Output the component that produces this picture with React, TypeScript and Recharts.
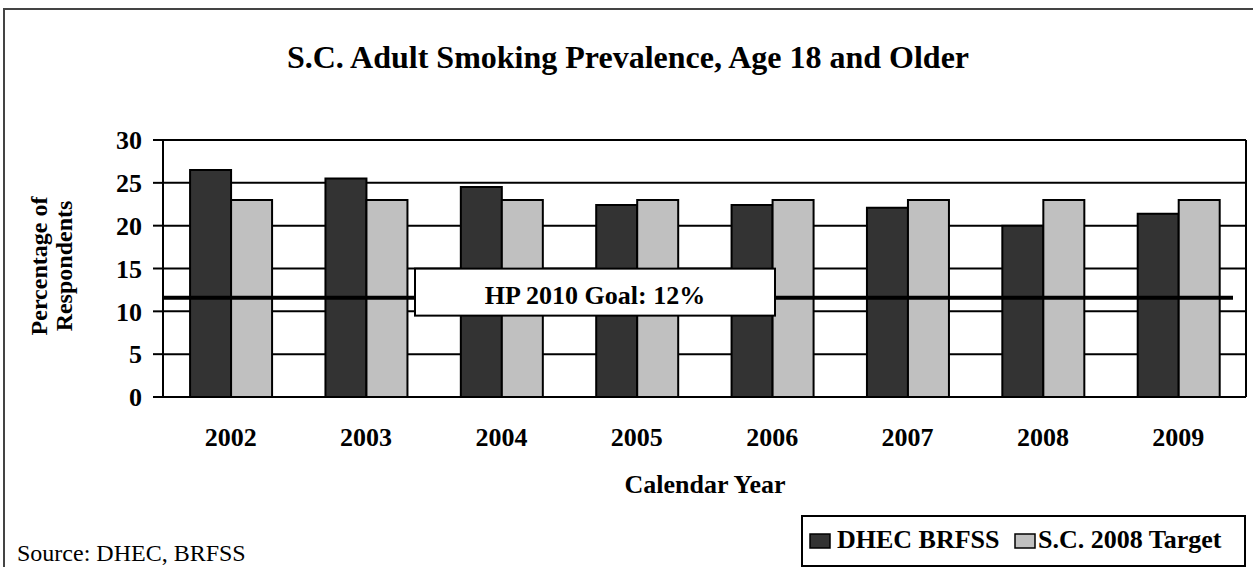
import React from 'react';
import { BarChart, Bar, XAxis, YAxis, CartesianGrid, ReferenceLine } from 'recharts';

const years = ['2002', '2003', '2004', '2005', '2006', '2007', '2008', '2009'];
const dhecBrfss = [26.5, 25.5, 24.5, 22.4, 22.4, 22.1, 20.0, 21.4];
const scTarget = [23, 23, 23, 23, 23, 23, 23, 23];
const hpGoal = 11.6;
const hpGoalLabel = 'HP 2010 Goal: 12%';
const yTicks = [0, 5, 10, 15, 20, 25, 30];
const boundaryTicks = [0, 1, 2, 3, 4, 5, 6, 7, 8];
const seriesNames = ['DHEC BRFSS', 'S.C. 2008 Target'];
const title = 'S.C. Adult Smoking Prevalence, Age 18 and Older';
const xTitle = 'Calendar Year';
const yTitleLines = ['Percentage of', 'Respondents'];
const sourceText = 'Source: DHEC, BRFSS';

const data = years.map((y, i) => ({ year: y, dhec: dhecBrfss[i], target: scTarget[i] }));

const FONT = '"Liberation Serif", "Times New Roman", serif';
const DARK = '#333333';
const LIGHT = '#C0C0C0';

const XTick = (props: any) => {
  const { x, y, payload } = props;
  return (
    <text x={x} y={y + 18} textAnchor="middle" fontFamily={FONT} fontWeight="bold" fontSize={26} fill="#000">
      {payload.value}
    </text>
  );
};

const HPShape = (props: any) => {
  const { x1, y1, x2 } = props;
  return (
    <g>
      <line x1={x1} y1={y1} x2={x2 - 13} y2={y1} stroke="#000" strokeWidth={4} />
      <rect x={x1 + 252} y={y1 - 29} width={360} height={47} fill="#fff" stroke="#000" strokeWidth={2} />
      <text x={x1 + 432} y={y1 + 6} textAnchor="middle" fontFamily={FONT} fontWeight="bold" fontSize={26} fill="#000">
        {hpGoalLabel}
      </text>
    </g>
  );
};

export default function App() {
  return (
    <div style={{ position: 'absolute', left: 0, top: 0, width: 1253, height: 567, background: '#fff', overflow: 'hidden', fontFamily: FONT }}>
      <BarChart
        width={1253}
        height={567}
        data={data}
        margin={{ top: 140, right: 0, bottom: 70, left: 0 }}
        barCategoryGap="20%"
        barGap={0}
      >
        <CartesianGrid vertical={false} stroke="#000" strokeWidth={2} />
        <XAxis
          xAxisId="bounds"
          type="number"
          domain={[0, 8]}
          ticks={boundaryTicks}
          tick={false}
          axisLine={false}
          tickLine={{ stroke: '#000', strokeWidth: 2 }}
          tickSize={10}
          height={0}
          interval={0}
        />
        <XAxis
          dataKey="year"
          tick={<XTick />}
          tickLine={false}
          tickSize={0}
          tickMargin={31}
          axisLine={{ stroke: '#000', strokeWidth: 2 }}
          height={100}
          interval={0}
        />
        <YAxis
          domain={[0, 30]}
          ticks={yTicks}
          interval={0}
          width={163}
          tickSize={10}
          tickMargin={11}
          tickLine={{ stroke: '#000', strokeWidth: 2 }}
          axisLine={{ stroke: '#000', strokeWidth: 2 }}
          tick={{ fontSize: 26, fontWeight: 'bold', fill: '#000', fontFamily: FONT }}
        />
        <YAxis
          yAxisId="right"
          orientation="right"
          domain={[0, 30]}
          tick={false}
          tickLine={false}
          axisLine={{ stroke: '#000', strokeWidth: 2 }}
          width={7}
        />
        <Bar dataKey="dhec" name={seriesNames[0]} fill={DARK} stroke="#000" strokeWidth={2} isAnimationActive={false} />
        <Bar dataKey="target" name={seriesNames[1]} fill={LIGHT} stroke="#000" strokeWidth={2} isAnimationActive={false} />
        <ReferenceLine y={hpGoal} shape={<HPShape />} />
      </BarChart>
      <svg width={1253} height={567} style={{ position: 'absolute', left: 0, top: 0, pointerEvents: 'none' }}>
        <rect x={4} y={9} width={1300} height={700} fill="none" stroke="#444" strokeWidth={2} />
        <text x={628} y={68} textAnchor="middle" fontFamily={FONT} fontWeight="bold" fontSize={32} fill="#000">
          {title}
        </text>
        <text x={705} y={493} textAnchor="middle" fontFamily={FONT} fontWeight="bold" fontSize={26} fill="#000">
          {xTitle}
        </text>
        <text transform="rotate(-90 47 266)" x={47} y={266} textAnchor="middle" fontFamily={FONT} fontWeight="bold" fontSize={24} fill="#000">
          {yTitleLines[0]}
        </text>
        <text transform="rotate(-90 72 266)" x={72} y={266} textAnchor="middle" fontFamily={FONT} fontWeight="bold" fontSize={24} fill="#000">
          {yTitleLines[1]}
        </text>
        <text x={17} y={561} fontFamily={FONT} fontSize={24} fill="#000">
          {sourceText}
        </text>
        <rect x={802} y={516} width={443} height={50} fill="#fff" stroke="#000" strokeWidth={2} />
        <rect x={810} y={534} width={20} height={14} fill={DARK} stroke="#000" strokeWidth={1.5} />
        <text x={837} y={548} fontFamily={FONT} fontWeight="bold" fontSize={26} fill="#000">
          {seriesNames[0]}
        </text>
        <rect x={1015} y={534} width={20} height={14} fill={LIGHT} stroke="#000" strokeWidth={1.5} />
        <text x={1038} y={548} fontFamily={FONT} fontWeight="bold" fontSize={26} fill="#000">
          {seriesNames[1]}
        </text>
      </svg>
    </div>
  );
}
